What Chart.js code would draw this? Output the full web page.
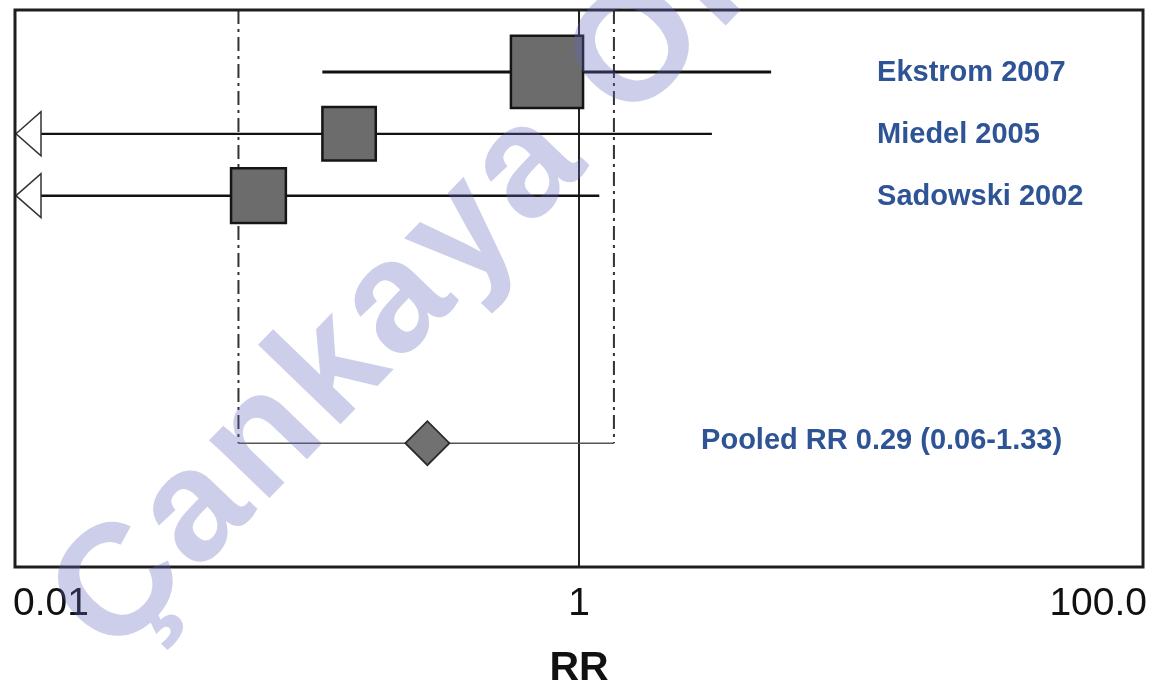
<!DOCTYPE html>
<html>
<head>
<meta charset="utf-8">
<title>Forest plot RR</title>
<script src="https://cdn.jsdelivr.net/npm/chart.js@4.4.1/dist/chart.umd.min.js"></script>
<style>
  body { margin: 0; background: #fff; }
  #wrap { width: 1151px; height: 683px; position: relative; }
</style>
</head>
<body>
<div id="wrap"><canvas id="grafico"></canvas></div>
<script>
// dados
const estudos = ["Ekstrom 2007", "Miedel 2005", "Sadowski 2002"];
const rr = [0.77, 0.153, 0.073];
const icInferior = [0.123, null, null]; // null = abaixo de 0.01 (seta)
const icSuperior = [4.8, 2.96, 1.18];
const peso = [1.0, 0.74, 0.76]; // tamanho relativo do quadrado

const pooledTexto = "Pooled RR 0.29 (0.06-1.33)";
const pooledRR = 0.29;
const pooledInf = 0.062;
const pooledSup = 1.33;

const ticksValores = [0.01, 1, 100];
const ticksTextos = ["0.01", "1", "100.0"];
const tituloEixo = "RR";
const marcaDagua = "Çankaya Online";

const LINHA_POOLED = 7;
const espessura = [3, 2.2, 2.5];
const AZUL = "#2f5496";
const FONTE = "'Liberation Sans', Arial, sans-serif";

const conjuntos = [];

// quadrados dos estudos
conjuntos.push({
    data: estudos.map((e, i) => ({ x: rr[i], y: i + 1 })),
    pointStyle: "rect",
    pointRadius: peso.map(p => p * 51),
    backgroundColor: "#6c6c6c",
    borderColor: "#151515",
    borderWidth: 2.5,
    order: 0,
});

// losango do pooled
conjuntos.push({
    data: [{ x: pooledRR, y: LINHA_POOLED }],
    pointStyle: "rectRot",
    pointRadius: 22,
    backgroundColor: "#717171",
    borderColor: "#2a2a2a",
    borderWidth: 1.8,
    order: 1,
});

// intervalos de confianca
estudos.forEach((e, i) => {
    conjuntos.push({
        data: [
            { x: icInferior[i] === null ? ticksValores[0] : icInferior[i], y: i + 1 },
            { x: icSuperior[i], y: i + 1 },
        ],
        showLine: true,
        pointRadius: 0,
        borderColor: "#111",
        borderWidth: espessura[i],
        order: 5,
    });
});

// linha horizontal do pooled
conjuntos.push({
    data: [{ x: pooledInf, y: LINHA_POOLED }, { x: pooledSup, y: LINHA_POOLED }],
    showLine: true,
    pointRadius: 0,
    borderColor: "#555",
    borderWidth: 1.5,
    order: 6,
});

// tracejados verticais do IC pooled
[pooledInf, pooledSup].forEach(v => {
    conjuntos.push({
        data: [{ x: v, y: 0 }, { x: v, y: LINHA_POOLED }],
        showLine: true,
        pointRadius: 0,
        borderColor: "#333",
        borderWidth: 2,
        borderDash: [14, 5, 3, 5],
        order: 7,
    });
});

// linha de nulidade RR = 1
conjuntos.push({
    data: [{ x: 1, y: 0 }, { x: 1, y: 9 }],
    showLine: true,
    pointRadius: 0,
    borderColor: "#222",
    borderWidth: 2,
    order: 8,
});

const extras = {
    id: "extras",
    afterDatasetsDraw(chart) {
        const { ctx, chartArea: a, scales: { x, y } } = chart;
        ctx.save();

        // setas dos IC truncados
        estudos.forEach((e, i) => {
            if (icInferior[i] !== null) return;
            const px = x.getPixelForValue(ticksValores[0]);
            const py = y.getPixelForValue(i + 1);
            ctx.beginPath();
            ctx.moveTo(px + 1, py);
            ctx.lineTo(px + 26, py - 22);
            ctx.lineTo(px + 26, py + 22);
            ctx.closePath();
            ctx.fillStyle = "#fff";
            ctx.fill();
            ctx.strokeStyle = "#333";
            ctx.lineWidth = 1.5;
            ctx.stroke();
        });

        // moldura
        ctx.strokeStyle = "#1e1e1e";
        ctx.lineWidth = 3;
        ctx.strokeRect(a.left, a.top, a.right - a.left, a.bottom - a.top);

        // nomes dos estudos
        ctx.fillStyle = AZUL;
        ctx.font = "bold 29px " + FONTE;
        ctx.textAlign = "left";
        ctx.textBaseline = "alphabetic";
        estudos.forEach((e, i) => {
            ctx.fillText(e, x.getPixelForValue(11.4), y.getPixelForValue(i + 1) + 9);
        });
        ctx.fillText(pooledTexto, x.getPixelForValue(2.71), y.getPixelForValue(LINHA_POOLED) + 6);

        // ticks do eixo x
        ctx.fillStyle = "#111";
        ctx.font = "39px " + FONTE;
        ticksValores.forEach((v, i) => {
            let px = x.getPixelForValue(v);
            if (i === 0) { ctx.textAlign = "left"; px -= 2; }
            else if (i === ticksValores.length - 1) { ctx.textAlign = "right"; px += 4; }
            else ctx.textAlign = "center";
            ctx.fillText(ticksTextos[i], px, a.bottom + 48);
        });

        // titulo do eixo
        ctx.textAlign = "center";
        ctx.font = "bold 41px " + FONTE;
        ctx.fillText(tituloEixo, x.getPixelForValue(1), a.bottom + 113);

        // marca d'agua
        ctx.fillStyle = "rgba(100,105,190,0.32)";
        ctx.font = "bold 158px " + FONTE;
        ctx.letterSpacing = "6px";
        ctx.textAlign = "left";
        ctx.translate(113, 660);
        ctx.rotate(-46 * Math.PI / 180);
        ctx.fillText(marcaDagua, 0, 0);

        ctx.restore();
    },
};

const grafico = new Chart(document.getElementById("grafico"), {
    type: "scatter",
    data: { datasets: conjuntos },
    options: {
        responsive: true,
        maintainAspectRatio: false,
        animation: false,
        layout: { autoPadding: false, padding: { left: 15, right: 8, top: 10, bottom: 116 } },
        plugins: { legend: { display: false }, tooltip: { enabled: false } },
        scales: {
            x: { type: "logarithmic", min: 0.01, max: 100, display: false },
            y: { type: "linear", min: 0, max: 9, reverse: true, display: false },
        },
    },
    plugins: [extras],
});
</script>
</body>
</html>
